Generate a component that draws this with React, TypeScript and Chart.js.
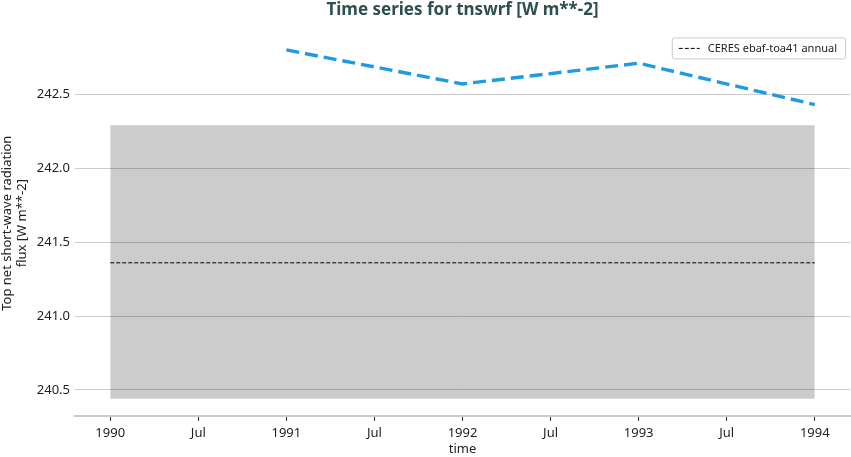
import React, { useEffect, useRef } from "react";
import { Chart, registerables } from "chart.js";

Chart.register(...registerables);

const modelYears = [1991, 1992, 1993, 1994];
const modelValues = [242.8, 242.57, 242.71, 242.43];
const refLabel = "CERES ebaf-toa41 annual";
const refYears = [1990, 1994];
const refMean = [241.36, 241.36];
const refUpper = [242.29, 242.29];
const refLower = [240.44, 240.44];
const xTicks = [1990, 1990.5, 1991, 1991.5, 1992, 1992.5, 1993, 1993.5, 1994];
const xTickLabels = ["1990", "Jul", "1991", "Jul", "1992", "Jul", "1993", "Jul", "1994"];
const yTicks = [240.5, 241.0, 241.5, 242.0, 242.5];

const FONT = "'Noto Sans', sans-serif";

const legendPlugin = {
  id: "boxLegend",
  afterDraw(chart: any) {
    const ctx = chart.ctx;
    const area = chart.chartArea;
    ctx.save();
    ctx.font = `11px ${FONT}`;
    const tw = ctx.measureText(refLabel).width;
    const w = tw + 44;
    const h = 21;
    const x = area.right - 5 - w;
    const y = area.top + 7;
    ctx.fillStyle = "rgba(255,255,255,0.9)";
    ctx.strokeStyle = "#cccccc";
    ctx.lineWidth = 1;
    ctx.beginPath();
    if (ctx.roundRect) ctx.roundRect(x + 0.5, y + 0.5, w, h, 2);
    else ctx.rect(x + 0.5, y + 0.5, w, h);
    ctx.fill();
    ctx.stroke();
    ctx.strokeStyle = "#000000";
    ctx.setLineDash([4, 2]);
    ctx.beginPath();
    ctx.moveTo(x + 7, y + h / 2 + 0.5);
    ctx.lineTo(x + 28, y + h / 2 + 0.5);
    ctx.stroke();
    ctx.setLineDash([]);
    ctx.fillStyle = "#222222";
    ctx.textBaseline = "middle";
    ctx.textAlign = "left";
    ctx.fillText(refLabel, x + 36, y + h / 2 + 1);
    ctx.restore();
  },
};

export default function App() {
  const ref = useRef<HTMLCanvasElement | null>(null);
  useEffect(() => {
    document.body.style.margin = "0";
    const canvas = ref.current!;
    const chart = new Chart(canvas, {
      type: "line",
      data: {
        datasets: [
          {
            label: "model",
            data: modelYears.map((x, i) => ({ x, y: modelValues[i] })),
            borderColor: "#1f9be3",
            borderWidth: 3.4,
            borderDash: [13, 6],
            pointRadius: 0,
            fill: false,
            tension: 0,
          },
          {
            label: refLabel,
            data: refYears.map((x, i) => ({ x, y: refMean[i] })),
            borderColor: "#000000",
            borderWidth: 1,
            borderDash: [4, 2],
            pointRadius: 0,
            fill: false,
          },
          {
            label: "upper",
            data: refYears.map((x, i) => ({ x, y: refUpper[i] })),
            borderWidth: 0,
            borderColor: "rgba(0,0,0,0)",
            pointRadius: 0,
            backgroundColor: "rgba(0,0,0,0.2)",
            fill: "+1",
          },
          {
            label: "lower",
            data: refYears.map((x, i) => ({ x, y: refLower[i] })),
            borderWidth: 0,
            borderColor: "rgba(0,0,0,0)",
            pointRadius: 0,
            fill: false,
          },
        ],
      },
      options: {
        responsive: false,
        animation: false,
        layout: { padding: { left: 0, right: 1, top: 0, bottom: 0 } },
        plugins: {
          legend: { display: false },
          tooltip: { enabled: false },
          title: {
            display: true,
            text: "Time series for tnswrf [W m**-2]",
            fullSize: false,
            color: "#2f4f4f",
            font: { family: FONT, size: 17, weight: "bold", lineHeight: 1.2 },
            padding: { top: 0, bottom: 10 },
          },
        },
        scales: {
          x: {
            type: "linear",
            min: 1989.8,
            max: 1994.2,
            afterFit: (s: any) => {
              s.height = 41;
            },
            afterBuildTicks: (s: any) => {
              s.ticks = xTicks.map((v) => ({ value: v }));
            },
            ticks: {
              autoSkip: false,
              maxRotation: 0,
              padding: 4,
              color: "#222222",
              font: { family: FONT, size: 13 },
              callback: (v: any) => {
                const i = xTicks.indexOf(Number(v));
                return i >= 0 ? xTickLabels[i] : "";
              },
            },
            grid: {
              drawOnChartArea: false,
              drawTicks: true,
              tickLength: 5,
              color: "#333333",
            },
            border: { display: true, color: "#cccccc", width: 2 },
            title: {
              display: true,
              text: "time",
              color: "#222222",
              font: { family: FONT, size: 13 },
              padding: { top: 0, bottom: 0 },
            },
          },
          y: {
            type: "linear",
            min: 240.324,
            max: 242.932,
            afterFit: (s: any) => {
              s.width = 75;
            },
            afterBuildTicks: (s: any) => {
              s.ticks = yTicks.map((v) => ({ value: v }));
            },
            ticks: {
              padding: 5,
              color: "#222222",
              font: { family: FONT, size: 13 },
              callback: (v: any) => Number(v).toFixed(1),
            },
            grid: { drawTicks: false, color: "#cccccc", lineWidth: 1 },
            border: { display: false },
            title: {
              display: true,
              text: ["Top net short-wave radiation", "flux [W m**-2]"],
              color: "#222222",
              font: { family: FONT, size: 13, lineHeight: 1.15 },
              padding: { top: 0, bottom: 2 },
            },
          },
        },
      },
      plugins: [legendPlugin],
    });
    return () => chart.destroy();
  }, []);
  return (
    <div style={{ width: 851, height: 457 }}>
      <canvas ref={ref} width={851} height={457} />
    </div>
  );
}
